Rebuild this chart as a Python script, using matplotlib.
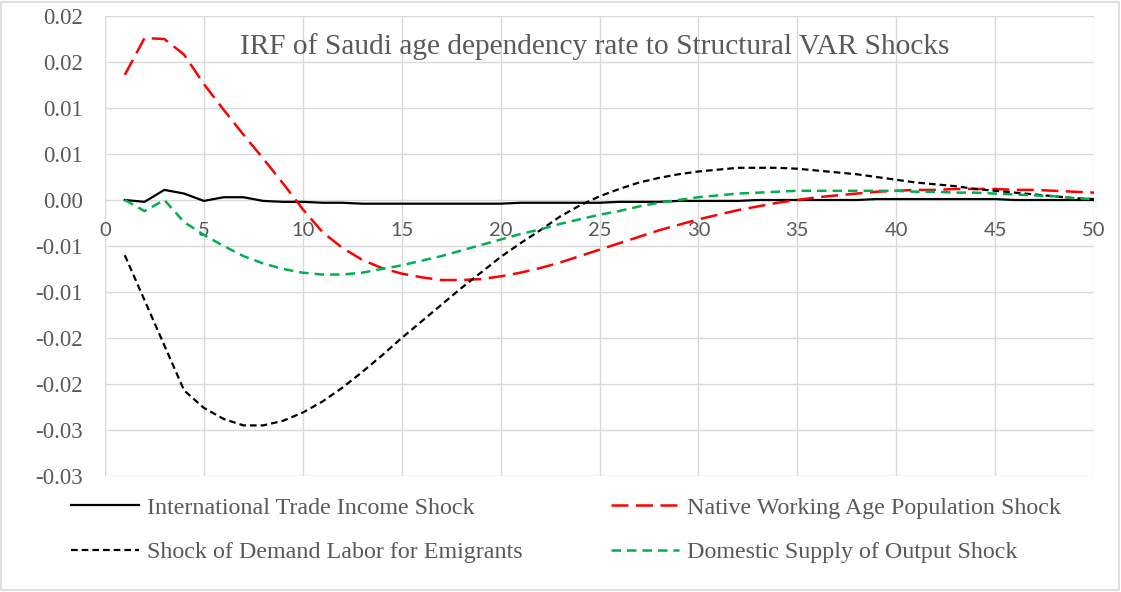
import matplotlib
matplotlib.use("Agg")
import matplotlib.pyplot as plt
from matplotlib.patches import Rectangle
import numpy as np

# ---------------- data ----------------
periods = list(range(1, 51))

intl_trade = [0.0000, -0.0002, 0.0011, 0.0007, -0.0001, 0.0003, 0.0003, -0.0001, -0.0002, -0.0002,
              -0.0003, -0.0003, -0.0004, -0.0004, -0.0004, -0.0004, -0.0004, -0.0004, -0.0004, -0.0004,
              -0.0003, -0.0003, -0.0003, -0.0003, -0.0003, -0.0002, -0.0002, -0.0002, -0.0001, -0.0001,
              -0.0001, -0.0001, 0.0000, 0.0000, 0.0000, 0.0000, 0.0000, 0.0000, 0.0001, 0.0001,
              0.0001, 0.0001, 0.0001, 0.0001, 0.0001, 0.0000, 0.0000, 0.0000, 0.0000, 0.0000]

native_pop = [0.0136, 0.0176, 0.0175, 0.0158, 0.0126, 0.0098, 0.0071, 0.0045, 0.0018, -0.0010,
              -0.0035, -0.0052, -0.0065, -0.0074, -0.0080, -0.0084, -0.0087, -0.0087, -0.0086, -0.0083,
              -0.0079, -0.0074, -0.0068, -0.0061, -0.0054, -0.0047, -0.0040, -0.0033, -0.0027, -0.0021,
              -0.0016, -0.0011, -0.0007, -0.0003, 0.0000, 0.0003, 0.0005, 0.0007, 0.0009, 0.0010,
              0.0011, 0.0011, 0.0012, 0.0012, 0.0012, 0.0011, 0.0011, 0.0010, 0.0009, 0.0008]

demand_labor = [-0.0060, -0.0109, -0.0158, -0.0207, -0.0226, -0.0238, -0.0245, -0.0245, -0.0240, -0.0231,
                -0.0219, -0.0204, -0.0187, -0.0169, -0.0150, -0.0132, -0.0114, -0.0096, -0.0079, -0.0062,
                -0.0047, -0.0033, -0.0018, -0.0006, 0.0004, 0.0012, 0.0019, 0.0024, 0.0028, 0.0031,
                0.0033, 0.0035, 0.0035, 0.0035, 0.0034, 0.0032, 0.0030, 0.0028, 0.0025, 0.0022,
                0.0019, 0.0017, 0.0015, 0.0012, 0.0010, 0.0008, 0.0006, 0.0004, 0.0002, 0.0001]

domestic_supply = [0.0000, -0.0012, 0.0000, -0.0024, -0.0038, -0.0050, -0.0061, -0.0069, -0.0075, -0.0079,
                   -0.0081, -0.0081, -0.0079, -0.0075, -0.0071, -0.0066, -0.0061, -0.0055, -0.0049, -0.0043,
                   -0.0037, -0.0032, -0.0026, -0.0021, -0.0016, -0.0012, -0.0007, -0.0003, 0.0000, 0.0003,
                   0.0005, 0.0007, 0.0008, 0.0009, 0.0010, 0.0010, 0.0010, 0.0010, 0.0010, 0.0010,
                   0.0009, 0.0009, 0.0008, 0.0008, 0.0007, 0.0006, 0.0005, 0.0004, 0.0002, 0.0001]

series_names = ["International Trade Income Shock", "Native Working Age Population Shock",
                "Shock of Demand Labor for Emigrants", "Domestic Supply of Output Shock"]

y_ticks = [-0.03, -0.025, -0.02, -0.015, -0.01, -0.005, 0.0, 0.005, 0.01, 0.015, 0.02]
y_tick_labels = ["-0.03", "-0.03", "-0.02", "-0.02", "-0.01", "-0.01", "0.00", "0.01", "0.01", "0.02", "0.02"]
x_ticks = [0, 5, 10, 15, 20, 25, 30, 35, 40, 45, 50]

title = "IRF of Saudi age dependency rate to Structural VAR Shocks"

# ---------------- figure ----------------
fig = plt.figure(figsize=(11.21, 5.92), dpi=100)
ax = fig.add_axes([105 / 1121, 1 - 476 / 592, (1094 - 105) / 1121, (476 - 16) / 592])

grid_c = "#d9d9d9"
text_c = "#595959"

l1, = ax.plot(periods, intl_trade, color="black", lw=1.6, linestyle="-", label=series_names[0], zorder=3)
l2, = ax.plot(periods, native_pop, color="#ff0000", lw=1.8, linestyle=(0, (6.8, 3.0)), label=series_names[1], zorder=3)
l3, = ax.plot(periods, demand_labor, color="black", lw=1.6, linestyle=(0, (3.0, 1.8)), label=series_names[2], zorder=3)
l4, = ax.plot(periods, domestic_supply, color="#00b050", lw=1.8, linestyle=(0, (3.8, 2.4)), label=series_names[3], zorder=3)

ax.set_xlim(0, 50)
ax.set_ylim(-0.03, 0.02)

for s in ["top", "right", "left"]:
    ax.spines[s].set_visible(False)
ax.spines["bottom"].set_position(("data", 0))
ax.spines["bottom"].set_color("none")

ax.set_xticks(x_ticks)
ax.set_xticklabels([str(v) for v in x_ticks], fontfamily="Lato", fontsize=14.5, color=text_c)
ax.set_yticks(y_ticks)
ax.set_yticklabels(y_tick_labels, fontfamily="Liberation Serif", fontsize=16.5, color=text_c)

ax.grid(True, color=grid_c, lw=1.0, zorder=0)
ax.set_axisbelow(True)
ax.tick_params(axis="both", length=0)
ax.tick_params(axis="x", pad=16)
ax.tick_params(axis="y", pad=16)

ax.text(0.495, 0.933, title, transform=ax.transAxes, ha="center", va="center",
        fontfamily="Liberation Serif", fontsize=21.2, color=text_c)

leg = fig.legend(handles=[l1, l3, l2, l4], labels=[series_names[0], series_names[2], series_names[1], series_names[3]],
                 ncol=2, loc="upper left", bbox_to_anchor=(71 / 1121, 1 - 497 / 592),
                 frameon=False, prop={"family": "Liberation Serif", "size": 17.3},
                 handlelength=2.83, handletextpad=0.33, columnspacing=3.7, labelspacing=0.95,
                 borderpad=0, borderaxespad=0)
for t in leg.get_texts():
    t.set_color(text_c)

fig.patches.append(Rectangle((1 / 1121, 2 / 592), 1118 / 1121, 588 / 592, transform=fig.transFigure,
                             fill=False, edgecolor=grid_c, lw=1.2))

fig.savefig("out.png", dpi=100)
